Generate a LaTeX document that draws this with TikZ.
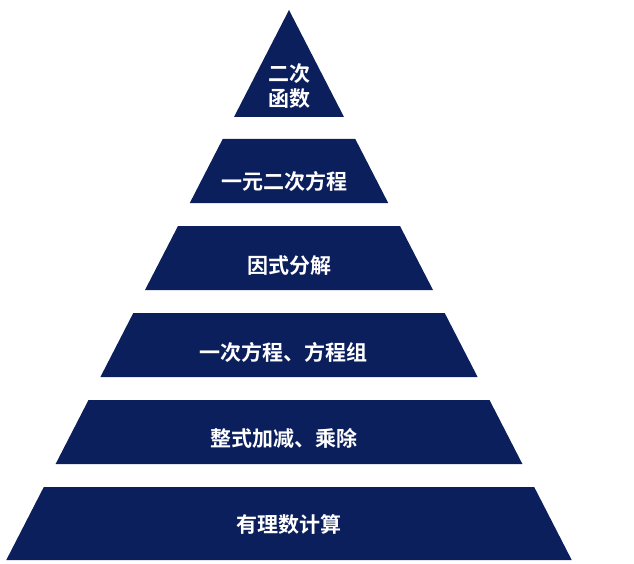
\documentclass[tikz,border=0pt]{standalone}
\usepackage{fontspec}
\newfontfamily\cjk{Noto Sans CJK SC}[BoldFont={* Bold}]
\definecolor{navy}{HTML}{0B1F5C}
\begin{document}
\begin{tikzpicture}[x=1pt,y=-1pt,
  lvl/.style={fill=navy,draw=none},
  lab/.style={text=white,font=\cjk\bfseries\fontsize{21}{25}\selectfont,align=center,inner sep=0pt}]
\useasboundingbox (0,0) rectangle (634,564);
\fill[lvl] (289,10) -- (344,117) -- (234,117) -- cycle;
\fill[lvl] (222.7,139) -- (355.3,139) -- (388.2,203) -- (189.8,203) -- cycle;
\fill[lvl] (178,226) -- (400,226) -- (433,290) -- (145,290) -- cycle;
\fill[lvl] (133.3,313) -- (444.7,313) -- (477.6,377) -- (100.4,377) -- cycle;
\fill[lvl] (88.5,400) -- (489.5,400) -- (522.4,464) -- (55.6,464) -- cycle;
\fill[lvl] (43.8,487) -- (534.2,487) -- (571.7,560) -- (6.3,560) -- cycle;
\node[lab] (l1) at (289,86) {二次\\函数};
\node[lab] (l2) at (284,181) {一元二次方程};
\node[lab] (l3) at (289,266) {因式分解};
\node[lab] (l4) at (283,352) {一次方程、方程组};
\node[lab] (l5) at (284,438) {整式加减、乘除};
\node[lab] (l6) at (289,524) {有理数计算};
\end{tikzpicture}
\end{document}
